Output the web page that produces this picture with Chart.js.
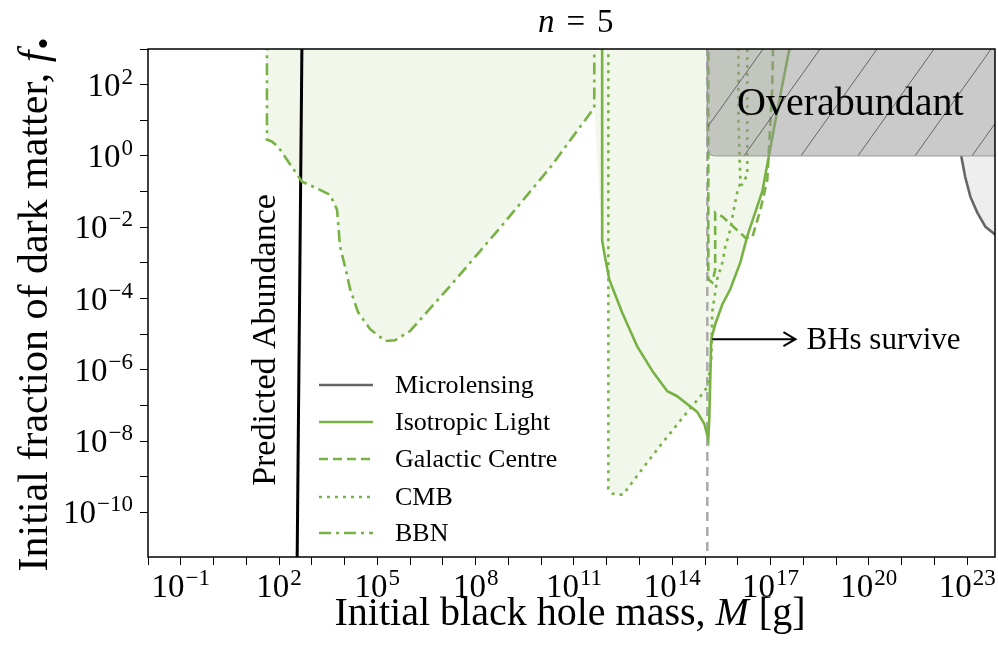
<!DOCTYPE html>
<html>
<head>
<meta charset="utf-8">
<script src="https://cdn.jsdelivr.net/npm/chart.js@4.4.1/dist/chart.umd.min.js"></script>
<style>
  html, body { margin: 0; padding: 0; background: #fff; }
  #wrap { width: 998px; height: 652px; }
</style>
</head>
<body>
<div id="wrap"><canvas id="chart" width="998" height="652"></canvas></div>
<script>
// all values are log10: M in grams, f dimensionless
const bbnLogM = [1.63, 1.63, 1.79, 1.97, 2.34, 2.70, 3.25, 3.56, 3.77, 3.86, 4.02, 4.17, 4.41, 4.78, 5.24, 5.54, 6.00, 7.22, 8.75, 10.27, 11.19, 11.62, 11.62];
const bbnLogF = [3.3, 0.46, 0.40, 0.26, -0.24, -0.72, -0.95, -1.09, -1.51, -2.54, -3.13, -3.74, -4.38, -4.86, -5.19, -5.17, -4.91, -3.65, -2.01, -0.33, 0.82, 1.35, 3.3];

const isoLogM = [11.86, 11.86, 11.95, 12.08, 12.47, 12.93, 13.42, 13.85, 14.15, 14.76, 14.98, 15.10, 15.13, 15.16, 15.19, 15.31, 15.53, 15.77, 16.08, 16.29, 16.75, 17.11, 17.36, 17.60, 17.68];
const isoLogF = [3.3, -2.37, -2.85, -3.47, -4.39, -5.34, -6.07, -6.60, -6.74, -7.18, -7.52, -7.94, -7.38, -6.26, -5.14, -4.72, -4.16, -3.74, -2.98, -2.25, -0.99, 0.80, 2.00, 3.11, 3.3];

const cmbLogM = [12.05, 12.05, 12.17, 12.32, 12.50, 13.02, 13.63, 14.46, 14.86, 15.07, 15.19, 15.22, 15.37, 15.53, 15.62, 15.77, 15.86, 15.98, 16.08, 16.02, 16.02, 16.29, 16.29, 16.11];
const cmbLogF = [3.3, -9.33, -9.47, -9.50, -9.50, -8.86, -8.13, -7.18, -6.74, -6.48, -5.70, -4.38, -3.46, -2.99, -2.54, -2.07, -1.59, -1.03, -0.75, 1.02, 3.3, 3.3, -0.53, -0.83];

const gcLogM = [15.10, 15.10, 15.22, 15.31, 15.31, 15.53, 16.23, 16.44, 16.69, 16.90, 17.05, 17.08];
const gcLogF = [3.3, -3.46, -3.55, -3.19, -1.59, -1.70, -2.29, -2.29, -1.51, -0.67, 1.85, 3.3];

const microLogM = [22.82, 22.94, 23.10, 23.31, 23.56, 23.86];
const microLogF = [0, -0.59, -1.15, -1.59, -1.99, -2.21];

// lower edge of the shaded excluded region
const envLogM = [1.63, 1.63, 1.79, 1.97, 2.34, 2.70, 3.25, 3.56, 3.77, 3.86, 4.02, 4.17, 4.41, 4.78, 5.24, 5.54, 6.00, 7.22, 8.75, 10.27, 11.19, 11.62, 11.86, 11.95, 12.05, 12.05, 12.17, 12.32, 12.50, 13.02, 13.63, 14.46, 14.57, 14.76, 14.98, 15.10, 15.13, 15.16, 15.19, 15.31, 15.53, 15.77, 16.08, 16.29, 16.75, 17.11, 17.36, 17.60, 17.68];
const envLogF = [3.3, 0.46, 0.40, 0.26, -0.24, -0.72, -0.95, -1.09, -1.51, -2.54, -3.13, -3.74, -4.38, -4.86, -5.19, -5.17, -4.91, -3.65, -2.01, -0.33, 0.82, 1.35, -2.37, -2.85, -3.3, -9.33, -9.47, -9.50, -9.50, -8.86, -8.13, -7.18, -7.06, -7.18, -7.52, -7.94, -7.38, -6.26, -5.14, -4.72, -4.16, -3.74, -2.98, -2.25, -0.99, 0.80, 2.00, 3.11, 3.3];

const overLogM = [15.07, 15.07, 15.15, 15.30, 23.9];
const overLogF = [3.3, 0.25, 0.03, 0, 0];

const predLogM = [2.70, 2.55];
const predLogF = [3.3, -11.5];

const mStarLogM = [15.07, 15.07];
const mStarLogF = [-11.5, 3.3];

const survLogM = [15.22, 17.76];
const survLogF = -5.14;

const xTickExps = [-2, -1, 0, 1, 2, 3, 4, 5, 6, 7, 8, 9, 10, 11, 12, 13, 14, 15, 16, 17, 18, 19, 20, 21, 22, 23];
const xLabelExps = [-1, 2, 5, 8, 11, 14, 17, 20, 23];
const yTickExps = [-10, -9, -8, -7, -6, -5, -4, -3, -2, -1, 0, 1, 2, 3];
const yLabelExps = [-10, -8, -6, -4, -2, 0, 2];

const legendLabels = ["Microlensing", "Isotropic Light", "Galactic Centre", "CMB", "BBN"];

const SERIF = "'Liberation Serif', 'DejaVu Serif', serif";
const GREEN = "#78b144";

function pts(logM, logF) {
  return logM.map((m, i) => ({ x: Math.pow(10, m), y: Math.pow(10, Array.isArray(logF) ? logF[i] : logF) }));
}

function hatchPattern() {
  const c = document.createElement("canvas");
  c.width = 57;
  c.height = 80;
  const g = c.getContext("2d");
  g.fillStyle = "rgba(150,150,150,0.5)";
  g.fillRect(0, 0, 57, 80);
  g.strokeStyle = "rgba(70,70,70,0.75)";
  g.lineWidth = 1;
  g.beginPath();
  g.moveTo(-57, 160); g.lineTo(114, -80);
  g.moveTo(-114, 160); g.lineTo(57, -80);
  g.moveTo(0, 160); g.lineTo(171, -80);
  g.stroke();
  return document.getElementById("chart").getContext("2d").createPattern(c, "repeat");
}

function line(label, logM, logF, color, dash, width) {
  return {
    label,
    data: pts(logM, logF),
    borderColor: color,
    borderWidth: width || 2.6,
    borderDash: dash || [],
    pointRadius: 0,
    fill: false,
    tension: 0
  };
}

const datasets = [
  {
    label: "Overabundant",
    data: pts(overLogM, overLogF),
    borderColor: "#9a9a9a",
    borderWidth: 1,
    backgroundColor: hatchPattern(),
    pointRadius: 0,
    fill: "end"
  },
  line("Isotropic Light", isoLogM, isoLogF, GREEN, []),
  line("Galactic Centre", gcLogM, gcLogF, GREEN, [9, 5]),
  line("CMB", cmbLogM, cmbLogF, GREEN, [3, 5]),
  line("BBN", bbnLogM, bbnLogF, GREEN, [12, 5, 3, 5]),
  line("Predicted", predLogM, predLogF, "#000", [], 3),
  line("Mstar", mStarLogM, mStarLogF, "#aaaaaa", [9, 6], 2.5),
  {
    label: "Microlensing",
    data: pts(microLogM, microLogF),
    borderColor: "#666666",
    borderWidth: 2.6,
    backgroundColor: "#eeeeee",
    pointRadius: 0,
    fill: { value: 1 }
  },
  {
    label: "envelope",
    data: pts(envLogM, envLogF),
    borderWidth: 0,
    borderColor: "rgba(0,0,0,0)",
    backgroundColor: "rgba(122,178,50,0.1)",
    pointRadius: 0,
    fill: "end"
  }
];

function drawPow(ctx, exp, x, y, align) {
  const base = "10";
  const sup = String(exp).replace("-", "\u2212");
  ctx.font = `33px ${SERIF}`;
  const bw = ctx.measureText(base).width;
  ctx.font = `23px ${SERIF}`;
  const sw = ctx.measureText(sup).width;
  const total = bw + sw + 1;
  const left = align === "center" ? x - total / 2 : x - total;
  ctx.textAlign = "left";
  ctx.textBaseline = "alphabetic";
  ctx.font = `33px ${SERIF}`;
  ctx.fillText(base, left, y);
  ctx.font = `23px ${SERIF}`;
  ctx.fillText(sup, left + bw + 1, y - 12);
}

const decorations = {
  id: "decorations",
  afterDatasetsDraw(chart) {
    const { ctx, chartArea: a, scales } = chart;
    const xs = scales.x, ys = scales.y;
    ctx.save();
    ctx.fillStyle = "#000";

    // Overabundant label
    ctx.font = `40px ${SERIF}`;
    ctx.textAlign = "left";
    ctx.textBaseline = "alphabetic";
    ctx.fillText("Overabundant", 737, 115);

    // BHs survive arrow
    const y0 = ys.getPixelForValue(Math.pow(10, survLogF));
    const x0 = xs.getPixelForValue(Math.pow(10, survLogM[0]));
    const x1 = xs.getPixelForValue(Math.pow(10, survLogM[1]));
    ctx.strokeStyle = "#000";
    ctx.lineWidth = 2;
    ctx.beginPath();
    ctx.moveTo(x0, y0); ctx.lineTo(x1, y0);
    ctx.moveTo(x1 - 12, y0 - 7); ctx.lineTo(x1, y0); ctx.lineTo(x1 - 12, y0 + 7);
    ctx.stroke();
    ctx.font = `31px ${SERIF}`;
    ctx.fillText("BHs survive", x1 + 11, y0 + 10);

    // Predicted Abundance
    ctx.save();
    ctx.translate(275, 340);
    ctx.rotate(-Math.PI / 2);
    ctx.textAlign = "center";
    ctx.font = `34px ${SERIF}`;
    ctx.fillText("Predicted Abundance", 0, 0);
    ctx.restore();

    // legend
    const rows = [385, 422, 459, 497, 533];
    legendLabels.forEach((lab, i) => {
      const ds = chart.data.datasets.find((d) => d.label === lab);
      ctx.strokeStyle = ds.borderColor;
      ctx.lineWidth = ds.borderWidth;
      ctx.setLineDash(ds.borderDash || []);
      ctx.beginPath();
      ctx.moveTo(319, rows[i]);
      ctx.lineTo(373, rows[i]);
      ctx.stroke();
      ctx.setLineDash([]);
      ctx.fillStyle = "#000";
      ctx.font = `26px ${SERIF}`;
      ctx.textAlign = "left";
      ctx.textBaseline = "middle";
      ctx.fillText(lab, 395, rows[i] + 1);
    });

    // frame
    ctx.strokeStyle = "#000";
    ctx.lineWidth = 1.5;
    ctx.strokeRect(a.left, a.top, a.right - a.left, a.bottom - a.top);
    ctx.restore();
  },
  afterDraw(chart) {
    const { ctx, scales } = chart;
    ctx.save();
    ctx.fillStyle = "#000";
    xLabelExps.forEach((e) => {
      drawPow(ctx, e, scales.x.getPixelForValue(Math.pow(10, e)), 597, "center");
    });
    yLabelExps.forEach((e) => {
      drawPow(ctx, e, 133, scales.y.getPixelForValue(Math.pow(10, e)) + 11, "right");
    });

    // x title
    const xt1 = "Initial black hole mass, ", xt2 = "M", xt3 = " [g]";
    ctx.font = `40px ${SERIF}`;
    const w1 = ctx.measureText(xt1).width, w3 = ctx.measureText(xt3).width;
    ctx.font = `italic 40px ${SERIF}`;
    const w2 = ctx.measureText(xt2).width;
    const xs0 = 570 - (w1 + w2 + w3) / 2;
    ctx.textAlign = "left";
    ctx.textBaseline = "alphabetic";
    ctx.font = `40px ${SERIF}`;
    ctx.fillText(xt1, xs0, 625);
    ctx.font = `italic 40px ${SERIF}`;
    ctx.fillText(xt2, xs0 + w1, 625);
    ctx.font = `40px ${SERIF}`;
    ctx.fillText(xt3, xs0 + w1 + w2, 625);

    // y title
    ctx.save();
    ctx.translate(47, 303);
    ctx.rotate(-Math.PI / 2);
    const yt1 = "Initial fraction of dark matter, ";
    ctx.font = `42px ${SERIF}`;
    const v1 = ctx.measureText(yt1).width;
    ctx.font = `italic 42px ${SERIF}`;
    const v2 = ctx.measureText("f").width;
    const tot = v1 + v2 + 16;
    ctx.font = `42px ${SERIF}`;
    ctx.fillText(yt1, -tot / 2, 0);
    ctx.font = `italic 42px ${SERIF}`;
    ctx.fillText("f", -tot / 2 + v1, 0);
    ctx.font = `34px ${SERIF}`;
    ctx.fillText("\u2022", -tot / 2 + v1 + v2 + 1, 8);
    ctx.restore();

    // title
    ctx.font = `italic 33px ${SERIF}`;
    const nW = ctx.measureText("n").width;
    ctx.font = `33px ${SERIF}`;
    const rest = " = 5";
    const rW = ctx.measureText(rest).width + 6;
    const tx = 575 - (nW + rW) / 2;
    ctx.font = `italic 33px ${SERIF}`;
    ctx.fillText("n", tx, 32);
    ctx.font = `33px ${SERIF}`;
    ctx.fillText("=", tx + nW + 12, 32);
    ctx.fillText("5", tx + nW + 12 + ctx.measureText("=").width + 12, 32);
    ctx.restore();
  }
};

new Chart(document.getElementById("chart"), {
  type: "line",
  data: { datasets },
  options: {
    responsive: false,
    animation: false,
    layout: { padding: { top: 49, right: 3, left: 0, bottom: 0 } },
    plugins: { legend: { display: false }, tooltip: { enabled: false } },
    scales: {
      x: {
        type: "logarithmic",
        min: Math.pow(10, -2),
        max: Math.pow(10, 23.85),
        afterBuildTicks: (s) => { s.ticks = xTickExps.map((e) => ({ value: Math.pow(10, e) })); },
        afterFit: (s) => { s.height = 95; },
        ticks: { display: false },
        grid: { display: true, drawOnChartArea: false, drawTicks: true, tickLength: 8, color: "#000", lineWidth: 1 },
        border: { display: false }
      },
      y: {
        type: "logarithmic",
        min: Math.pow(10, -11.25),
        max: Math.pow(10, 3),
        afterBuildTicks: (s) => { s.ticks = yTickExps.map((e) => ({ value: Math.pow(10, e) })); },
        afterFit: (s) => { s.width = 148; },
        ticks: { display: false },
        grid: { display: true, drawOnChartArea: false, drawTicks: true, tickLength: 8, color: "#000", lineWidth: 1 },
        border: { display: false }
      }
    }
  },
  plugins: [decorations]
});
</script>
</body>
</html>
